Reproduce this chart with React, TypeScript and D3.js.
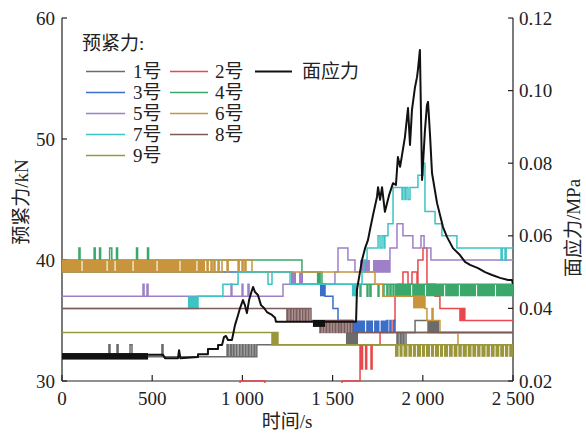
import React from 'react';
import * as d3 from 'd3';

// ---------- axes ----------
const timeTicks = [0, 500, 1000, 1500, 2000, 2500];
const timeLabels = ['0', '500', '1 000', '1 500', '2 000', '2 500'];
const forceTicks = [30, 40, 50, 60];
const stressTicks = [0.02, 0.04, 0.06, 0.08, 0.1, 0.12];
const stressLabels = ['0.02', '0.04', '0.06', '0.08', '0.10', '0.12'];

// ---------- data: preload (kN), step series [time s, value] ----------
const s1 = [[0,32],[260,33],[266,32],[305,33],[311,32],[377,33],[388,32],[554,33],[560,32],[915,33],[921,32],[932,33],[938,32],[948,33],[954,32],[965,33],[970,32],[982,33],[987,32],[998,33],[1004,32],[1015,33],[1020,32],[1031,33],[1037,32],[1048,33],[1053,32],[1064,33],[1070,32],[1080,33],[1857,34],[1863,33],[1874,34],[1880,33],[1890,34],[1896,33],[1907,34],[1957,35],[2029,34],[2500,34]];
const b1 = [[1574,1641,33,34],[2029,2090,34,35]];

const s2 = [[0,29],[987,30],[1125,29],[1552,30],[1652,33],[1660,31],[1666,33],[1683,31],[1689,33],[1713,31],[1719,33],[1763,34],[1835,35],[1846,37],[1862,38],[1890,39],[1918,38],[1940,39],[1968,38],[1973,40],[2001,41],[2023,38],[2068,37],[2095,36],[2206,35],[2212,36],[2220,35],[2226,36],[2233,35],[2500,35]];
const b2: number[][] = [];

const s3 = [[0,39],[1275,38],[1458,37],[1502,36],[1530,35],[1613,34],[1800,35],[1806,34],[1818,35],[1824,34],[1840,35],[1846,34],[2500,34]];
const b3 = [[1275,1296,38,39],[1430,1458,37,38],[1613,1680,34,35],[1686,1724,34,35],[1730,1760,34,35],[1766,1800,34,35]];

const s4 = [[0,40],[94,41],[100,40],[178,41],[184,40],[208,41],[214,40],[264,41],[276,40],[302,41],[308,40],[413,41],[419,40],[474,41],[480,40],[1330,39],[1441,38],[1652,37],[1657,38],[1691,37],[1696,38],[1707,37],[1713,38],[1752,37],[1757,38],[1779,37],[1785,38],[1801,37],[1807,38],[1818,37],[1824,38],[1835,37],[1840,38],[2500,38]];
const b4 = [[1413,1435,38,39],[1846,1935,37,38],[1941,2012,37,38],[2018,2118,37,38],[2124,2200,37,38],[2206,2295,37,38],[2301,2400,37,38],[2406,2500,37,38]];

const s5 = [[0,37],[449,38],[455,37],[471,38],[477,37],[937,38],[942,37],[998,38],[1003,37],[1031,38],[1037,37],[1225,38],[1513,39],[1530,41],[1585,40],[1624,39],[1818,41],[1857,43],[1890,42],[1945,41],[1990,42],[2007,41],[2045,40],[2500,40]];
const b5 = [[1275,1296,38,39],[1314,1336,38,39],[1652,1707,39,40],[1724,1818,39,40]];

const s6 = [[0,39],[804,40],[810,39],[826,40],[832,39],[842,40],[848,39],[865,40],[871,39],[887,40],[915,39],[921,40],[976,39],[982,40],[998,39],[1004,40],[1014,39],[1020,40],[1053,39],[1735,38],[1779,37],[2012,36],[2023,35],[2051,36],[2057,35],[2095,34],[2195,33],[2500,33]];
const b6 = [[0,108,39,40],[114,247,39,40],[253,291,39,40],[297,391,39,40],[397,524,39,40],[530,651,39,40],[657,745,39,40],[751,793,39,40],[1946,2012,36,37]];

const s7 = [[0,36],[754,37],[892,38],[976,39],[1142,38],[1164,39],[1264,38],[1663,39],[1674,40],[1691,41],[1752,42],[1763,41],[1774,42],[1785,41],[1790,42],[1807,43],[1835,46],[1885,45],[1890,46],[1901,45],[1907,46],[1918,45],[1929,46],[1973,47],[2001,48],[2012,44],[2068,43],[2106,42],[2189,41],[2434,40],[2440,41],[2456,40],[2462,41],[2500,41]];
const b7 = [[698,754,36,37],[1607,1641,37,38]];

const s8 = [[0,36],[1247,35],[1253,36],[1264,35],[1270,36],[1281,35],[1286,36],[1297,35],[1303,36],[1314,35],[1320,36],[1331,35],[1336,36],[1347,35],[1353,36],[1364,35],[1369,36],[1380,35],[1430,34],[1436,35],[1447,34],[1452,35],[1463,34],[1469,35],[1480,34],[1486,35],[1497,34],[1502,35],[1513,34],[1519,35],[1530,34],[1536,35],[1546,34],[1552,35],[1563,34],[1569,35],[1580,34],[1585,35],[1596,34],[1602,35],[1613,34],[2500,34]];
const b8: number[][] = [];

const s9 = [[0,34],[1164,33],[1170,34],[1175,33],[1181,34],[1186,33],[1192,34],[1197,33],[2500,33]];
const b9 = [[1846,1866,32,33],[1871,1888,32,33],[1893,1915,32,33],[1920,1940,32,33],[1945,1962,32,33],[1967,1990,32,33],[1995,2012,32,33],[2017,2040,32,33],[2045,2062,32,33],[2067,2090,32,33],[2095,2112,32,33],[2117,2140,32,33],[2145,2166,32,33],[2171,2192,32,33],[2197,2216,32,33],[2221,2244,32,33],[2249,2270,32,33],[2275,2296,32,33],[2301,2320,32,33],[2325,2348,32,33],[2353,2372,32,33],[2377,2398,32,33],[2403,2424,32,33],[2429,2450,32,33],[2455,2474,32,33],[2479,2500,32,33]];

// ---------- data: surface stress (MPa) ----------
const stress = [[477,0.0272],[560,0.0272],[571,0.0263],[643,0.0263],[649,0.0285],[656,0.0263],[754,0.0266],[754,0.0274],[809,0.0274],[809,0.0288],[865,0.0288],[865,0.0299],[887,0.0299],[898,0.0321],[909,0.0324],[920,0.0313],[942,0.0313],[959,0.0354],[976,0.0382],[987,0.0401],[1003,0.0423],[1014,0.0409],[1025,0.0387],[1037,0.0423],[1048,0.0442],[1059,0.0459],[1070,0.0445],[1086,0.0437],[1103,0.0409],[1120,0.0401],[1136,0.039],[1164,0.0382],[1181,0.0374],[1186,0.0363],[1630,0.0363],[1635,0.0451],[1663,0.0533],[1680,0.0566],[1696,0.0588],[1707,0.0616],[1724,0.0657],[1746,0.0707],[1752,0.0734],[1763,0.0699],[1774,0.0734],[1790,0.0666],[1813,0.0712],[1835,0.0745],[1851,0.074],[1862,0.0817],[1874,0.079],[1885,0.0823],[1901,0.0872],[1918,0.0952],[1929,0.085],[1940,0.0947],[1957,0.101],[1968,0.1037],[1973,0.1057],[1984,0.1112],[1996,0.0754],[2012,0.0891],[2023,0.096],[2029,0.0969],[2040,0.0878],[2051,0.0773],[2079,0.069],[2112,0.0624],[2134,0.0597],[2167,0.0566],[2206,0.0547],[2234,0.0528],[2262,0.052],[2306,0.0511],[2345,0.05],[2384,0.0492],[2428,0.0484],[2473,0.0478],[2494,0.0478],[2500,0.0467]];
const stressBands = [[0,477,0.0259,0.0277],[1391,1458,0.0349,0.0368]];

const names = ['1号','2号','3号','4号','5号','6号','7号','8号','9号'];
const colors = ['#6b6b6b','#e8474c','#3a6ec8','#3aa86a','#9d80c8','#c8953c','#3cc4c4','#7d5c5c','#9a963c'];
const stepSeries = [s1,s2,s3,s4,s5,s6,s7,s8,s9];
const bandSeries = [b1,b2,b3,b4,b5,b6,b7,b8,b9];

const L = 62, R = 513, T = 18, B = 381;
const serif = "'Liberation Serif', 'Times New Roman', 'Noto Sans CJK SC', serif";
const FS = 19;

export default function App() {
  const x = d3.scaleLinear().domain([0, 2500]).range([L, R]);
  const yL = d3.scaleLinear().domain([30, 60]).range([B, T]);
  const yR = d3.scaleLinear().domain([0.02, 0.12]).range([B, T]);
  const step = d3.line<number[]>().x(d => x(d[0])).y(d => yL(d[1])).curve(d3.curveStepAfter);
  const lin = d3.line<number[]>().x(d => x(d[0])).y(d => yR(d[1]));

  const legendRows = [[0, 1, -1], [2, 3], [4, 5], [6, 7], [8]];
  const colX = [[86, 125, 133], [170, 208, 215], [255, 292, 302]];

  return (
    <div style={{ position: 'absolute', left: 0, top: 0 }}>
      <svg width={586} height={435} style={{ display: 'block', background: '#fff' }} fontFamily={serif}>
        <defs>
          <clipPath id="plot"><rect x={L} y={T} width={R - L} height={B - T + 2} /></clipPath>
        </defs>
        {/* axes */}
        <g stroke="#222" strokeWidth={1.2} fill="none">
          <line x1={L} y1={T} x2={L} y2={B} />
          <line x1={R} y1={T} x2={R} y2={B} />
          <line x1={L} y1={B} x2={R} y2={B} />
          {forceTicks.map(t => <line key={'fl' + t} x1={L} x2={L + 5} y1={yL(t)} y2={yL(t)} />)}
          {stressTicks.map(t => <line key={'sr' + t} x1={R} x2={R - 5} y1={yR(t)} y2={yR(t)} />)}
          {timeTicks.map(t => <line key={'tb' + t} x1={x(t)} x2={x(t)} y1={B} y2={B - 6} />)}
        </g>
        <g fontSize={FS} fill="#222">
          {forceTicks.map(t => <text key={'flt' + t} x={L - 7} y={yL(t)} textAnchor="end" dominantBaseline="central">{t}</text>)}
          {stressTicks.map((t, i) => <text key={'srt' + t} x={R + 6} y={yR(t)} dominantBaseline="central">{stressLabels[i]}</text>)}
          {timeTicks.map((t, i) => <text key={'tbt' + t} x={x(t)} y={405} textAnchor="middle">{timeLabels[i]}</text>)}
          <text x={287} y={428} textAnchor="middle">时间/s</text>
          <text transform="translate(28,202) rotate(-90)" textAnchor="middle">预紧力/kN</text>
          <text transform="translate(580,228) rotate(-90)" textAnchor="middle">面应力/MPa</text>
        </g>
        {/* data */}
        <g clipPath="url(#plot)">
          {stepSeries.map((s, i) => (
            <g key={'s' + i}>
              {bandSeries[i].map((b, j) => (
                <rect key={j} x={x(b[0])} width={Math.max(0.5, x(b[1]) - x(b[0]))} y={yL(b[3])} height={yL(b[2]) - yL(b[3])} fill={colors[i]} />
              ))}
              <path d={step(s) || ''} fill="none" stroke={colors[i]} strokeWidth={1.5} />
            </g>
          ))}
          {stressBands.map((b, j) => (
            <rect key={'sb' + j} x={x(b[0])} width={x(b[1]) - x(b[0])} y={yR(b[3])} height={yR(b[2]) - yR(b[3])} fill="#111" />
          ))}
          <path d={lin(stress) || ''} fill="none" stroke="#111" strokeWidth={2} strokeLinejoin="round" />
        </g>
        {/* legend */}
        <g fontSize={FS} fill="#222">
          <text x={82} y={43} dominantBaseline="central">预紧力:</text>
          {legendRows.map((row, r) => row.map((idx, c) => {
            const y = 71.5 + r * 21;
            const [x1, x2, tx] = colX[c];
            const col = idx < 0 ? '#111' : colors[idx];
            const label = idx < 0 ? '面应力' : names[idx];
            return (
              <g key={r + '-' + c}>
                <line x1={x1} x2={x2} y1={y} y2={y} stroke={col} strokeWidth={idx < 0 ? 2 : 1.5} />
                <text x={tx} y={y} dominantBaseline="central">{label}</text>
              </g>
            );
          }))}
        </g>
      </svg>
    </div>
  );
}
